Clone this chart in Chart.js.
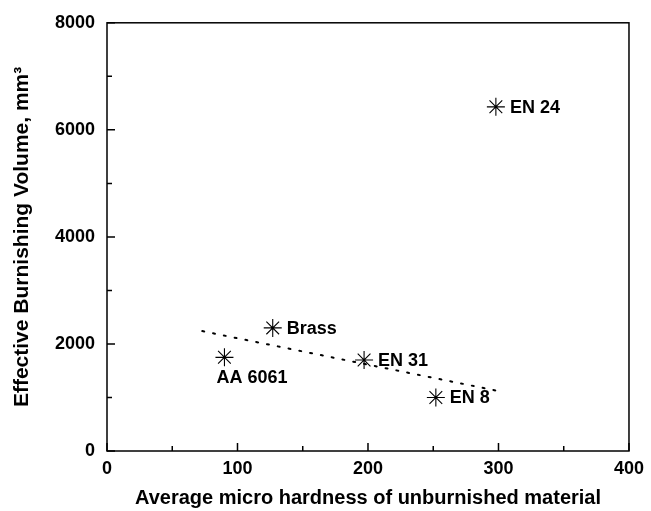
<!DOCTYPE html>
<html>
<head>
<meta charset="utf-8">
<script src="https://cdn.jsdelivr.net/npm/chart.js@4/dist/chart.umd.min.js"></script>
<style>
  html, body { margin: 0; padding: 0; background: #fff; }
  #wrap { position: relative; width: 651px; height: 511px; }
</style>
</head>
<body>
<div id="wrap"><canvas id="myChart" width="651" height="511"></canvas></div>
<script>
// materials and their measured values
const materials = ["AA 6061", "Brass", "EN 31", "EN 8", "EN 24"];
const hardness = [90, 127, 197, 252, 298];
const volume = [1750, 2300, 1700, 1000, 6430];

// fitted trend line (end points)
const trendX = [73, 298];
const trendY = [2240, 1130];

const xTicks = [0, 100, 200, 300, 400];
const yTicks = [0, 2000, 4000, 6000, 8000];

const FONT = "'Liberation Sans', Arial, sans-serif";

// inward ticks, top/right frame and point labels
const framePlugin = {
  id: "frame",
  afterDraw(chart) {
    const ctx = chart.ctx;
    const a = chart.chartArea;
    const xs = chart.scales.x;
    const ys = chart.scales.y;
    ctx.save();
    ctx.strokeStyle = "#000";
    ctx.lineWidth = 1.5;
    ctx.strokeRect(a.left, a.top, a.right - a.left, a.bottom - a.top);

    ctx.beginPath();
    for (let v = 0; v <= 400; v += 50) {
      const px = xs.getPixelForValue(v);
      const len = v % 100 === 0 ? 8 : 5;
      ctx.moveTo(px, a.bottom);
      ctx.lineTo(px, a.bottom - len);
    }
    for (let v = 0; v <= 8000; v += 1000) {
      const py = ys.getPixelForValue(v);
      const len = v % 2000 === 0 ? 8 : 5;
      ctx.moveTo(a.left, py);
      ctx.lineTo(a.left + len, py);
    }
    ctx.stroke();

    // material names next to each marker
    ctx.fillStyle = "#000";
    ctx.font = "bold 18px " + FONT;
    ctx.textBaseline = "middle";
    ctx.textAlign = "left";
    const meta = chart.getDatasetMeta(0);
    meta.data.forEach((pt, i) => {
      if (materials[i] === "AA 6061") {
        ctx.fillText(materials[i], pt.x - 8, pt.y + 21);
      } else {
        ctx.fillText(materials[i], pt.x + 14, pt.y + 1);
      }
    });
    ctx.restore();
  }
};

new Chart(document.getElementById("myChart"), {
  type: "scatter",
  data: {
    datasets: [
      {
        data: hardness.map((h, i) => ({ x: h, y: volume[i] })),
        pointStyle: "star",
        pointRadius: 9,
        pointBorderWidth: 1.1,
        borderColor: "#000",
        backgroundColor: "#000",
        showLine: false
      },
      {
        type: "line",
        data: trendX.map((x, i) => ({ x: x, y: trendY[i] })),
        borderColor: "#000",
        borderWidth: 2,
        borderDash: [2, 9],
        borderCapStyle: "round",
        pointRadius: 0,
        fill: false
      }
    ]
  },
  options: {
    responsive: false,
    animation: false,
    layout: { padding: { top: 19, right: 21, left: 0, bottom: 0 } },
    plugins: {
      legend: { display: false },
      tooltip: { enabled: false }
    },
    scales: {
      x: {
        type: "linear",
        min: 0,
        max: 400,
        afterBuildTicks: (s) => { s.ticks = xTicks.map(v => ({ value: v })); },
        afterFit: (s) => { s.height = 60; },
        grid: { display: false, drawTicks: false },
        border: { display: false },
        ticks: {
          color: "#000",
          padding: 7,
          maxRotation: 0,
          callback: (v) => String(v),
          font: { family: FONT, size: 18, weight: "bold" }
        },
        title: {
          display: true,
          text: "Average micro hardness of unburnished material",
          color: "#000",
          padding: { top: 8, bottom: 1 },
          font: { family: FONT, size: 20, weight: "bold" }
        }
      },
      y: {
        type: "linear",
        min: 0,
        max: 8000,
        afterBuildTicks: (s) => { s.ticks = yTicks.map(v => ({ value: v })); },
        afterFit: (s) => { s.width = 107; },
        grid: { display: false, drawTicks: false },
        border: { display: false },
        ticks: {
          color: "#000",
          padding: 12,
          callback: (v) => String(v),
          font: { family: FONT, size: 18, weight: "bold" }
        },
        title: {
          display: true,
          text: "Effective Burnishing Volume, mm\u00B3",
          color: "#000",
          padding: { top: 10, bottom: 0 },
          font: { family: FONT, size: 21, weight: "bold" }
        }
      }
    }
  },
  plugins: [framePlugin]
});
</script>
</body>
</html>
